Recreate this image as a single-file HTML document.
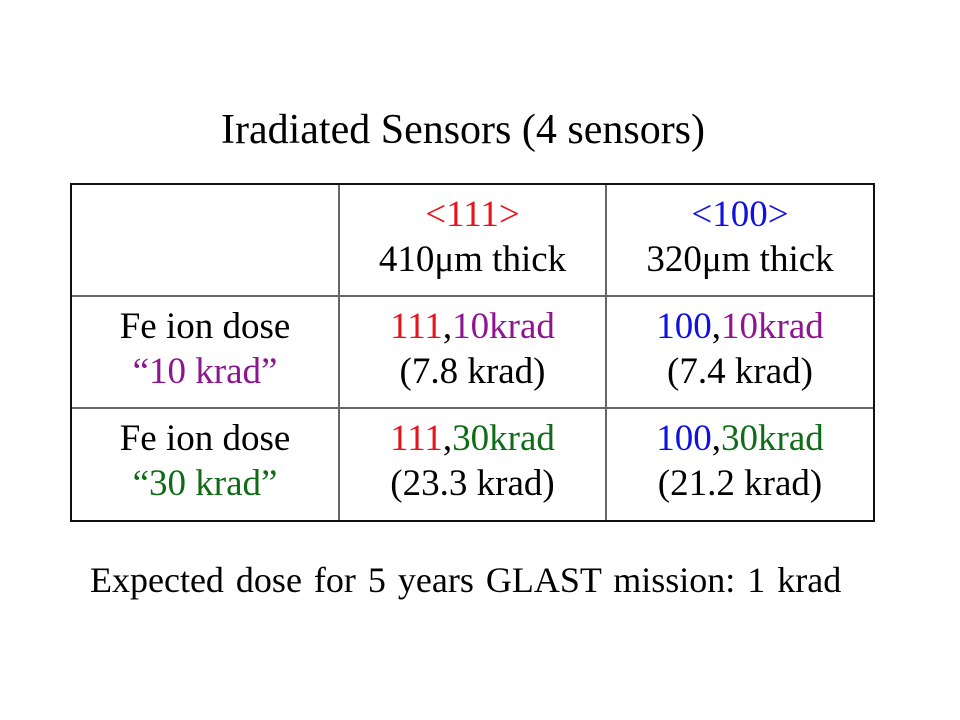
<!DOCTYPE html>
<html><head><meta charset="utf-8"><style>
body{margin:0;background:#fff;}
#slide{position:relative;width:960px;height:720px;background:#fff;font-family:"Liberation Serif",serif;color:#000;overflow:hidden}
.t{position:absolute;white-space:nowrap;text-align:center}
.cell{position:absolute;text-align:center;font-size:37px;line-height:45px;display:flex;flex-direction:column;justify-content:center;white-space:nowrap}
.r{color:#e8141c}.b{color:#1010e0}.p{color:#8e1590}.g{color:#0e6b16}
.line{position:absolute;background:#666}
</style></head><body>
<div id="slide">
<div class="t" style="left:0;width:926px;top:105px;font-size:42px;line-height:50px">Iradiated Sensors (4 sensors)</div>
<div style="position:absolute;left:70px;top:183px;width:801px;height:335px;border:2px solid #111;"></div>
<div class="line" style="left:338px;top:185px;width:2px;height:335px"></div>
<div class="line" style="left:605px;top:185px;width:2px;height:335px"></div>
<div class="line" style="left:72px;top:295px;width:801px;height:2px"></div>
<div class="line" style="left:72px;top:407px;width:801px;height:2px"></div>

<div class="cell" style="left:340px;top:184px;width:265px;height:105px"><div><span class="r">&lt;111&gt;</span><br>410μm thick</div></div>
<div class="cell" style="left:607px;top:184px;width:266px;height:105px"><div><span class="b">&lt;100&gt;</span><br>320μm thick</div></div>

<div class="cell" style="left:72px;top:296px;width:266px;height:105px"><div>Fe ion dose<br><span class="p">“10 krad”</span></div></div>
<div class="cell" style="left:340px;top:296px;width:265px;height:105px"><div><span class="r">111</span>,<span class="p">10krad</span><br>(7.8 krad)</div></div>
<div class="cell" style="left:607px;top:296px;width:266px;height:105px"><div><span class="b">100</span>,<span class="p">10krad</span><br>(7.4 krad)</div></div>

<div class="cell" style="left:72px;top:408px;width:266px;height:105px"><div>Fe ion dose<br><span class="g">“30 krad”</span></div></div>
<div class="cell" style="left:340px;top:408px;width:265px;height:105px"><div><span class="r">111</span>,<span class="g">30krad</span><br>(23.3 krad)</div></div>
<div class="cell" style="left:607px;top:408px;width:266px;height:105px"><div><span class="b">100</span>,<span class="g">30krad</span><br>(21.2 krad)</div></div>

<div class="t" style="left:90px;top:558px;font-size:36px;line-height:44px;word-spacing:3px">Expected dose for 5 years GLAST mission: 1 krad</div>
</div>
</body></html>
